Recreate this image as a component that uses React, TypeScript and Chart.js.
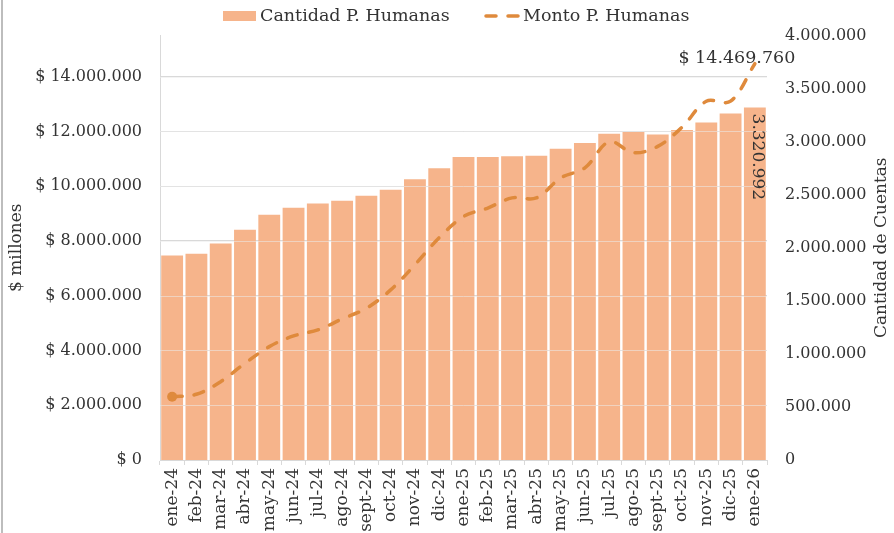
import React, { useEffect, useRef } from "react";
import { Chart, registerables } from "chart.js";

Chart.register(...registerables);

const categories = [
  "ene-24", "feb-24", "mar-24", "abr-24", "may-24", "jun-24", "jul-24", "ago-24", "sept-24",
  "oct-24", "nov-24", "dic-24", "ene-25", "feb-25", "mar-25", "abr-25", "may-25", "jun-25",
  "jul-25", "ago-25", "sept-25", "oct-25", "nov-25", "dic-25", "ene-26",
];

const cuentas = [
  1927000, 1943000, 2040000, 2170000, 2310000, 2377000, 2418000, 2443000, 2490000,
  2547000, 2645000, 2750000, 2855000, 2855000, 2862000, 2868000, 2934000, 2987000,
  3075000, 3090000, 3068000, 3110000, 3180000, 3264000, 3320992,
];

const monto = [
  2310000, 2400000, 2860000, 3530000, 4140000, 4530000, 4750000, 5150000, 5540000,
  6210000, 7130000, 8120000, 8890000, 9200000, 9570000, 9570000, 10300000, 10670000,
  11620000, 11220000, 11450000, 12150000, 13100000, 13100000, 14469760,
];

const leftTickValues = [0, 2000000, 4000000, 6000000, 8000000, 10000000, 12000000, 14000000];
const leftMax = 15500000;
const rightTickValues = [0, 500000, 1000000, 1500000, 2000000, 2500000, 3000000, 3500000, 4000000];
const rightMax = 4000000;

const seriesNames = ["Cantidad P. Humanas", "Monto P. Humanas"];
const leftTitle = "$ millones";
const rightTitle = "Cantidad de Cuentas";

const BAR_COLOR = "#F6B48B";
const LINE_COLOR = "#DF8A3C";
const TEXT_COLOR = "#333333";
const GRID_COLOR = "#D9D9D9";
const FONT = '"DejaVu Serif", serif';
const LINE_DASH = [10, 12];

const fmt = (n: number) => String(Math.round(n)).replace(/\B(?=(\d{3})+(?!\d))/g, ".");
const fmtMoney = (n: number) => "$ " + fmt(n);

const overlayPlugin = {
  id: "overlay",
  beforeDatasetDraw(chart: any, args: any) {
    if (args.index !== 1) return;
    const { ctx, chartArea, scales } = chart;
    ctx.save();
    ctx.strokeStyle = "rgba(235,235,235,0.55)";
    ctx.lineWidth = 1;
    leftTickValues.forEach((v) => {
      if (v === 0) return;
      const y = Math.round(scales.yL.getPixelForValue(v)) + 0.5;
      ctx.beginPath();
      ctx.moveTo(chartArea.left, y);
      ctx.lineTo(chartArea.right, y);
      ctx.stroke();
    });
    ctx.restore();
  },
  afterDatasetsDraw(chart: any) {
    const { ctx, scales, chartArea } = chart;
    const last = categories.length - 1;
    const px = scales.x.getPixelForValue(last);
    ctx.save();
    ctx.fillStyle = TEXT_COLOR;
    const ly = scales.yL.getPixelForValue(monto[last]);
    ctx.font = `17.5px ${FONT}`;
    ctx.textAlign = "center";
    ctx.textBaseline = "middle";
    ctx.fillText(fmtMoney(monto[last]), px - 18, ly - 5);
    const by = scales.yR.getPixelForValue(cuentas[last]);
    ctx.save();
    ctx.translate(px + 3, by + 6);
    ctx.rotate(Math.PI / 2);
    ctx.font = `17px ${FONT}`;
    ctx.textAlign = "left";
    ctx.textBaseline = "middle";
    ctx.fillText(fmt(cuentas[last]), 0, 0);
    ctx.restore();
    // right axis title (reads bottom to top)
    ctx.save();
    ctx.translate(882, (chartArea.top + chartArea.bottom) / 2);
    ctx.rotate(-Math.PI / 2);
    ctx.font = `17px ${FONT}`;
    ctx.textAlign = "center";
    ctx.textBaseline = "middle";
    ctx.fillText(rightTitle, 0, 0);
    ctx.restore();
    // legend
    const ly0 = 16;
    ctx.font = `17.5px ${FONT}`;
    ctx.textAlign = "left";
    ctx.textBaseline = "middle";
    ctx.fillStyle = BAR_COLOR;
    ctx.fillRect(223, ly0 - 5, 33, 10);
    ctx.fillStyle = TEXT_COLOR;
    ctx.fillText(seriesNames[0], 260, ly0);
    ctx.save();
    ctx.strokeStyle = LINE_COLOR;
    ctx.lineWidth = 3.5;
    ctx.lineCap = "round";
    ctx.setLineDash(LINE_DASH);
    ctx.beginPath();
    ctx.moveTo(486, ly0);
    ctx.lineTo(519, ly0);
    ctx.stroke();
    ctx.restore();
    ctx.fillText(seriesNames[1], 523, ly0);
    ctx.restore();
  },
};

export default function App() {
  const canvasRef = useRef<HTMLCanvasElement | null>(null);

  useEffect(() => {
    if (!canvasRef.current) return;
    Chart.defaults.font.family = FONT;
    Chart.defaults.color = TEXT_COLOR;

    const chart = new Chart(canvasRef.current, {
      type: "bar",
      data: {
        labels: categories,
        datasets: [
          {
            type: "bar",
            label: seriesNames[0],
            data: cuentas,
            yAxisID: "yR",
            backgroundColor: BAR_COLOR,
            borderWidth: 0,
            barPercentage: 0.9,
            categoryPercentage: 1.0,
            order: 2,
          } as any,
          {
            type: "line",
            label: seriesNames[1],
            data: monto,
            yAxisID: "yL",
            borderColor: LINE_COLOR,
            backgroundColor: LINE_COLOR,
            borderWidth: 3.5,
            borderDash: LINE_DASH,
            borderCapStyle: "round",
            tension: 0.35,
            pointRadius: (c: any) => (c.dataIndex === 0 ? 5 : 0),
            pointBackgroundColor: LINE_COLOR,
            pointBorderWidth: 0,
            fill: false,
            order: 1,
          } as any,
        ],
      },
      options: {
        animation: false,
        responsive: false,
        maintainAspectRatio: false,
        layout: { padding: { left: 0, right: 0, top: 35.5, bottom: 0 } },
        plugins: {
          tooltip: { enabled: false },
          legend: { display: false },
        },
        scales: {
          x: {
            type: "category",
            grid: {
              offset: true,
              drawOnChartArea: false,
              drawTicks: true,
              tickLength: 5,
              color: GRID_COLOR,
            },
            border: { display: true, color: GRID_COLOR, width: 1 },
            ticks: {
              autoSkip: false,
              maxRotation: 90,
              minRotation: 90,
              padding: 3,
              color: TEXT_COLOR,
              font: { family: FONT, size: 17 },
            },
            afterFit: (s: any) => {
              s.height = 73;
            },
          },
          yL: {
            type: "linear",
            position: "left",
            min: 0,
            max: leftMax,
            grid: { color: GRID_COLOR, drawTicks: false, lineWidth: 1 },
            border: { display: true, color: GRID_COLOR, width: 1 },
            ticks: {
              autoSkip: false,
              padding: 18,
              color: TEXT_COLOR,
              font: { family: FONT, size: 16 },
              callback: (v: any) => fmtMoney(Number(v)),
            },
            afterBuildTicks: (s: any) => {
              s.ticks = leftTickValues.map((v) => ({ value: v }));
            },
            title: {
              display: true,
              text: leftTitle,
              color: TEXT_COLOR,
              font: { family: FONT, size: 17 },
              padding: { top: 6, bottom: 0 },
            },
            afterFit: (s: any) => {
              s.width = 160;
            },
          },
          yR: {
            type: "linear",
            position: "right",
            min: 0,
            max: rightMax,
            grid: { display: false, drawOnChartArea: false, drawTicks: false },
            border: { display: false },
            ticks: {
              autoSkip: false,
              padding: 18,
              color: TEXT_COLOR,
              font: { family: FONT, size: 16 },
              callback: (v: any) => fmt(Number(v)),
            },
            afterBuildTicks: (s: any) => {
              s.ticks = rightTickValues.map((v) => ({ value: v }));
            },
            afterFit: (s: any) => {
              s.width = 127;
            },
          },
        },
      } as any,
      plugins: [overlayPlugin],
    });

    return () => chart.destroy();
  }, []);

  return (
    <div style={{ position: "fixed", left: 0, top: 0, width: 894, height: 533, background: "#fff" }}>
      <canvas ref={canvasRef} width={894} height={533} style={{ display: "block", width: 894, height: 533 }} />
      <div style={{ position: "absolute", left: 1, top: 0, width: 2, height: 533, background: "#BDBDBD" }} />
    </div>
  );
}
